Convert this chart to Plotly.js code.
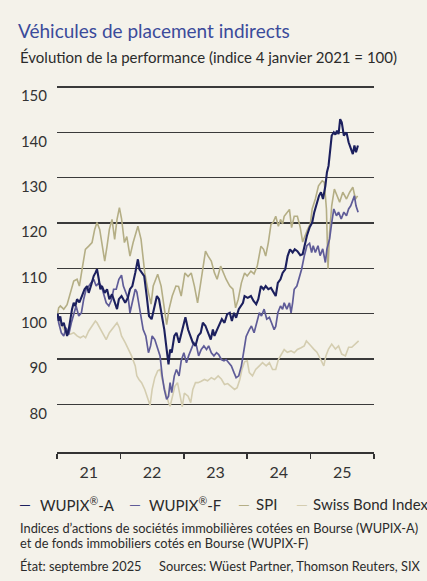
<!DOCTYPE html>
<html>
<head>
<meta charset="utf-8">
<script src="https://cdn.plot.ly/plotly-3.0.1.min.js"></script>
<style>
  body { margin:0; background:#f4f2ea; }
  #myDiv { width:427px; height:581px; }
</style>
</head>
<body>
<div id="myDiv"></div>
<script>
// values, time in months since 1 Jan 2021
var monthsA = [
  0.1, 0.3, 0.6, 0.9, 1.26, 1.57, 1.9, 2.2, 2.5, 2.83,
  3.15, 3.46, 3.78, 4.22, 4.7, 5.2, 5.67, 5.99, 6.5, 6.93,
  7.25, 7.56, 7.9, 8.2, 8.5, 9.0, 9.46, 9.9, 10.4, 10.9,
  11.35, 11.7, 12.2, 12.9, 13.4, 13.8, 14.25, 14.8, 15.3, 15.6,
  16.0, 16.5, 16.97, 17.4, 17.9, 18.4, 18.9, 19.3, 19.8, 20.3,
  20.75, 21.1, 21.4, 21.7, 22.2, 22.6, 23.1, 23.6, 23.85, 24.3,
  24.8, 25.3, 25.7, 26.2, 26.7, 27.2, 27.6, 28.1, 28.6, 29.1,
  29.5, 29.8, 30.3, 30.8, 31.2, 31.7, 32.2, 32.7, 33.1, 33.5,
  33.9, 34.4, 34.8, 35.2, 35.5, 36.1, 36.7, 37.2, 37.7, 38.1,
  38.6, 39.1, 39.5, 40.0, 40.5, 41.0, 41.4, 41.8, 42.3, 42.7,
  43.2, 43.65, 44.1, 44.6, 45.0, 45.5, 46.05, 46.5, 46.8, 47.3,
  47.8, 48.3, 48.7, 49.2, 49.6, 49.97, 50.35, 50.8, 51.1, 51.4,
  51.7, 52.0, 52.4, 52.7, 53.0, 53.3, 53.6, 53.9, 54.3, 54.8,
  55.2, 55.6, 56.0, 56.3, 56.6, 56.97];
var wupixA = [
  100, 98.4, 99.4, 97.3, 98.0, 96.2, 95.1, 96.5, 99.0, 101.0,
  102.4, 101.7, 103.2, 102.5, 103.9, 105.4, 106.1, 104.6, 106.5, 108.3,
  109.0, 109.8, 107.6, 105.4, 106.1, 104.6, 105.4, 103.2, 104.3, 102.4,
  101.0, 103.2, 103.9, 102.4, 103.5, 105.4, 106.1, 109.0, 112.0, 109.8,
  109.0, 108.3, 103.9, 99.5, 98.8, 101.7, 103.9, 103.2, 100.2, 96.5,
  92.1, 88.8, 92.1, 91.4, 95.1, 95.8, 93.6, 95.8, 97.5, 99.2,
  96.5, 95.1, 93.6, 92.9, 95.1, 95.8, 98.0, 97.3, 95.8, 94.3,
  96.5, 95.1, 96.5, 98.0, 98.8, 98.0, 99.9, 100.2, 98.4, 100.2,
  99.1, 101.0, 101.7, 102.4, 103.9, 103.5, 103.9, 102.8, 102.1, 103.2,
  106.1, 105.4, 106.1, 105.4, 105.7, 104.6, 103.9, 106.8, 107.6, 109.0,
  109.8, 112.7, 114.2, 113.5, 114.2, 113.8, 112.9, 113.1, 114.9, 117.2,
  119.0, 120.1, 122.4, 124.6, 126.0, 126.8, 125.3, 128.2, 131.2, 132.6,
  135.6, 139.3, 140.0, 139.5, 140.4, 139.6, 142.9, 142.2, 139.3, 140.0,
  137.8, 136.3, 135.2, 137.1, 135.6, 137.1];

var monthsF = [
  0.1, 0.3, 0.8, 1.26, 1.7, 2.2, 2.7, 3.15, 3.6, 4.1,
  4.6, 5.04, 5.5, 6.0, 6.5, 6.93, 7.4, 7.9, 8.4, 8.8,
  9.3, 9.8, 10.3, 10.7, 11.2, 11.7, 12.2, 12.55, 13.0, 13.5,
  13.8, 14.25, 14.8, 15.1, 15.5, 15.9, 16.3, 16.8, 17.3, 17.7,
  18.0, 18.5, 19.05, 19.5, 19.9, 20.3, 20.75, 21.1, 21.4, 21.7,
  22.2, 22.6, 23.1, 23.5, 24.0, 24.5, 24.9, 25.4, 25.9, 26.4,
  26.8, 27.3, 27.8, 28.3, 28.7, 29.2, 29.7, 30.2, 30.6, 31.1,
  31.6, 32.0, 32.5, 33.0, 33.5, 33.9, 34.4, 34.9, 35.4, 35.8,
  36.4, 36.8, 37.3, 37.8, 38.3, 38.7, 39.2, 39.7, 40.2, 40.6,
  41.1, 41.4, 41.8, 42.3, 42.7, 43.0, 43.5, 44.0, 44.3, 44.6,
  44.9, 45.4, 45.9, 46.3, 46.8, 47.3, 47.8, 48.2, 48.5, 48.9,
  49.4, 49.8, 50.3, 50.8, 51.1, 51.6, 52.0, 52.4, 52.9, 53.3,
  53.8, 54.3, 54.8, 55.2, 55.6, 56.0, 56.3, 56.6, 57.0];
var wupixF = [
  100, 98.0, 95.8, 95.1, 96.9, 95.4, 98.0, 100.2, 101.7, 99.5,
  100.2, 103.2, 105.4, 106.1, 106.8, 107.6, 106.1, 106.8, 106.1, 104.6,
  102.4, 101.7, 103.0, 105.4, 105.4, 107.6, 108.5, 106.1, 104.6, 103.2,
  100.2, 102.4, 105.4, 104.8, 101.7, 99.5, 96.5, 95.1, 91.4, 92.9,
  95.1, 94.3, 92.1, 90.7, 86.3, 83.3, 81.1, 81.8, 84.8, 82.6,
  86.3, 87.7, 86.3, 89.6, 91.4, 89.2, 90.7, 92.1, 93.6, 92.9,
  90.7, 92.1, 92.9, 92.1, 92.9, 91.4, 90.7, 91.4, 91.0, 89.9,
  89.6, 89.9, 89.2, 88.5, 87.0, 85.9, 86.3, 88.5, 92.1, 95.0,
  96.5, 97.3, 95.8, 98.0, 100.2, 99.5, 101.0, 98.8, 99.2, 98.0,
  96.5, 97.2, 100.2, 101.7, 101.0, 102.4, 101.0, 102.4, 100.2, 102.4,
  105.4, 106.1, 108.3, 109.8, 112.7, 115.0, 115.5, 113.5, 115.0, 113.5,
  115.0, 112.8, 114.3, 111.3, 114.3, 116.5, 120.1, 123.1, 121.6, 122.4,
  120.9, 122.4, 121.6, 123.1, 123.8, 125.3, 126.0, 123.8, 122.4];

var monthsSPI = [
  0.1, 0.3, 0.62, 1.26, 1.89, 2.52, 3.15, 3.78, 4.22, 4.73,
  5.36, 5.99, 6.62, 7.12, 7.56, 8.07, 8.51, 9.02, 9.46, 9.9,
  10.4, 10.9, 11.35, 11.8, 12.2, 12.75, 13.2, 13.8, 14.4, 15.3,
  15.9, 16.3, 16.6, 17.3, 17.8, 18.2, 18.6, 19.05, 19.7, 20.3,
  20.75, 21.2, 21.8, 22.5, 23.0, 23.5, 24.2, 24.8, 25.4, 26.0,
  26.6, 27.1, 27.6, 28.1, 28.6, 29.2, 29.8, 30.3, 30.97, 31.4,
  32.0, 32.7, 33.3, 33.8, 34.3, 34.9, 35.5, 36.0, 36.7, 37.3,
  37.9, 38.6, 39.1, 39.5, 40.0, 40.5, 40.9, 41.4, 41.9, 42.3,
  42.7, 43.0, 43.5, 44.0, 44.4, 44.9, 45.5, 46.05, 46.5, 47.0,
  47.4, 47.95, 48.3, 48.9, 49.5, 50.2, 50.6, 51.0, 51.3, 51.6,
  52.0, 52.5, 53.0, 53.5, 54.1, 54.8, 55.4, 56.0, 56.5, 56.9];
var spi = [
  100, 101.3, 101.7, 101.0, 102.0, 104.6, 107.2, 107.6, 106.1, 109.8,
  114.2, 114.9, 115.7, 118.6, 120.1, 118.6, 115.3, 111.6, 114.9, 118.6,
  120.8, 116.4, 120.8, 123.4, 121.0, 115.7, 117.0, 112.7, 115.7, 119.3,
  116.4, 112.0, 109.0, 104.6, 102.1, 106.1, 107.5, 108.7, 106.1, 101.0,
  97.6, 101.0, 103.9, 106.1, 106.0, 103.9, 109.0, 108.2, 109.0, 106.1,
  102.4, 106.1, 109.8, 113.8, 112.7, 111.6, 109.0, 107.6, 110.5, 109.2,
  107.6, 106.1, 105.4, 101.3, 103.2, 106.8, 109.0, 108.3, 109.4, 108.8,
  110.5, 114.9, 114.2, 112.7, 115.7, 119.7, 120.1, 121.5, 119.3, 120.8,
  119.8, 121.5, 122.3, 123.0, 119.0, 121.5, 121.5, 119.0, 115.8, 117.5,
  118.5, 119.8, 123.1, 125.3, 128.2, 129.3, 129.0, 123.1, 109.9, 117.9,
  123.8, 127.5, 126.0, 124.6, 126.8, 125.3, 126.8, 127.9, 125.3, 126.0];

var monthsSBI = [
  0.1, 0.62, 1.26, 1.89, 2.52, 3.15, 3.78, 4.4, 5.0, 5.4,
  5.99, 6.62, 7.25, 7.56, 8.07, 8.7, 9.3, 9.9, 10.4, 11.35,
  11.8, 12.2, 12.9, 13.5, 14.1, 14.8, 15.1, 15.5, 16.0, 16.6,
  17.3, 17.6, 18.0, 18.5, 19.05, 19.5, 19.9, 20.4, 21.1, 21.4,
  21.8, 22.3, 22.8, 23.3, 23.7, 24.1, 24.8, 25.3, 25.7, 26.2,
  26.7, 27.3, 27.9, 28.5, 29.2, 29.8, 30.5, 31.1, 31.7, 32.3,
  33.0, 33.6, 34.1, 34.6, 35.0, 35.5, 36.0, 36.4, 37.0, 37.6,
  38.3, 38.9, 39.6, 40.2, 40.8, 41.4, 41.9, 42.4, 43.0, 43.6,
  44.3, 44.9, 45.5, 46.2, 46.8, 47.2, 47.6, 48.0, 48.6, 49.2,
  49.7, 50.2, 50.5, 50.9, 51.4, 52.0, 52.7, 53.3, 53.9, 54.6,
  55.2, 55.8, 56.5, 57.1];
var sbi = [
  100, 98.0, 96.5, 95.8, 95.5, 95.8, 95.1, 94.7, 95.1, 94.7,
  96.2, 97.3, 98.4, 98.0, 96.9, 95.8, 94.3, 95.8, 96.5, 98.0,
  96.9, 95.1, 93.6, 92.1, 90.7, 88.5, 86.3, 85.5, 84.8, 83.3,
  81.1, 79.8, 83.3, 85.9, 87.4, 87.7, 85.5, 83.3, 80.4, 79.6,
  81.8, 84.0, 84.8, 81.8, 79.5, 82.5, 81.8, 80.4, 83.3, 84.8,
  84.8, 85.1, 85.5, 85.2, 85.9, 85.5, 86.3, 85.6, 84.4, 84.6,
  84.0, 83.3, 83.7, 85.5, 87.7, 89.4, 89.6, 87.0, 86.3, 87.7,
  88.5, 89.2, 88.5, 89.2, 87.7, 87.7, 89.9, 91.0, 92.1, 91.5,
  91.8, 91.4, 92.1, 92.5, 92.9, 94.0, 93.6, 93.0, 92.2, 91.5,
  90.4, 89.3, 88.5, 90.7, 92.2, 93.3, 92.2, 92.9, 91.1, 90.7,
  92.6, 92.6, 93.3, 94.0];

var seriesNames = ['WUPIX<sup>®</sup>-A', 'WUPIX<sup>®</sup>-F', 'SPI', 'Swiss Bond Index'];
var yTicks = [80, 90, 100, 110, 120, 130, 140, 150];

var COL_A = '#1c205e';
var COL_F = '#5f5c98';
var COL_SPI = '#b4ae85';
var COL_SBI = '#d4cdb0';
var BG = '#f4f2ea';
var INK = '#2b2b2b';
var GRID = '#3a3a3a';

// months since 1 Jan 2021 -> date string
function mdate(m) {
  var t = Date.UTC(2021, 0, 1) + m * 30.4375 * 86400000;
  return new Date(t).toISOString().slice(0, 16).replace('T', ' ');
}

// plot area in page pixels, ~4.537 px per index point;
// the range runs well above 150 so the top grid line is not lost at the edge
var YMIN = 69.5, YMAX = 165;
var PL = 57, PR = 374, PB = 452;
var PT = Math.round(PB - (YMAX - YMIN) * 4.537);
function px(x) { return (x - PL) / (PR - PL); }
function py(y) { return (PB - y) / (PB - PT); }

function ann(x, y, text, size, color) {
  return { text: text, showarrow: false, xref: 'paper', yref: 'paper',
           x: px(x), y: py(y), xanchor: 'left', yanchor: 'middle',
           font: { size: size, color: color } };
}

function mkTrace(months, vals, name, color, width) {
  return { x: months.map(mdate), y: vals, name: name, type: 'scatter', mode: 'lines',
           line: { color: color, width: width }, hoverinfo: 'skip', showlegend: false };
}

var data = [
  mkTrace(monthsSBI, sbi, seriesNames[3], COL_SBI, 1.6),
  mkTrace(monthsSPI, spi, seriesNames[2], COL_SPI, 1.6),
  mkTrace(monthsF, wupixF, seriesNames[1], COL_F, 1.7),
  mkTrace(monthsA, wupixA, seriesNames[0], COL_A, 2.1)
];

var annotations = [
  ann(18, 57, 'Évolution de la performance (indice 4 janvier 2021 = 100)', 15, INK),
  ann(17, 504, '<span style="color:' + COL_A + '">—</span>', 15, COL_A),
  ann(38, 504, seriesNames[0], 15, INK),
  ann(127, 504, '<span style="color:' + COL_F + '">—</span>', 15, COL_F),
  ann(147, 504, seriesNames[1], 15, INK),
  ann(236, 504, '<span style="color:' + COL_SPI + '">—</span>', 15, COL_SPI),
  ann(254, 504, seriesNames[2], 15, INK),
  ann(294, 504, '<span style="color:' + COL_SBI + '">—</span>', 15, COL_SBI),
  ann(311, 504, seriesNames[3], 15, INK),
  ann(18, 528, 'Indices d’actions de sociétés immobilières cotées en Bourse (WUPIX-A)', 12.8, INK),
  ann(18, 543, 'et de fonds immobiliers cotés en Bourse (WUPIX-F)', 12.8, INK),
  ann(18, 566, 'État: septembre 2025', 12.8, INK),
  ann(157, 566, 'Sources: Wüest Partner, Thomson Reuters, SIX', 12.8, INK)
];

var layout = {
  width: 427,
  height: 581,
  paper_bgcolor: BG,
  plot_bgcolor: BG,
  font: { family: 'Lato, "Open Sans", sans-serif', color: INK },
  margin: { l: PL, r: 427 - PR, t: PT, b: 581 - PB, pad: 0, autoexpand: false },
  title: { text: 'Véhicules de placement indirects', xref: 'container', yref: 'container',
           x: 18 / 427, y: 1 - 31 / 581, xanchor: 'left', yanchor: 'middle',
           font: { size: 19, color: '#3b4b9b' } },
  showlegend: false,
  xaxis: {
    type: 'date',
    range: ['2020-12-31 12:00', '2026-01-01 12:00'],
    tick0: '2021-01-01',
    dtick: 'M12',
    tickformat: '%y',
    ticklabelmode: 'period',
    showgrid: false,
    zeroline: false,
    showline: true,
    linecolor: '#333333',
    linewidth: 1.5,
    ticks: 'outside',
    ticklen: 5,
    tickwidth: 1.5,
    tickcolor: '#333333',
    tickfont: { size: 16, color: '#333333' },
    automargin: false,
    fixedrange: true
  },
  yaxis: {
    range: [YMIN, YMAX],
    tickmode: 'array',
    tickvals: yTicks,
    ticktext: yTicks.map(String),
    showgrid: true,
    gridcolor: GRID,
    gridwidth: 1.5,
    zeroline: false,
    showline: false,
    ticks: '',
    ticklabelshift: 9,
    ticklabelstandoff: 9,
    tickfont: { size: 15, color: '#333333' },
    automargin: false,
    fixedrange: true
  },
  annotations: annotations
};

var config = { displayModeBar: false, staticPlot: true };

Plotly.newPlot('myDiv', data, layout, config);
</script>
</body>
</html>
